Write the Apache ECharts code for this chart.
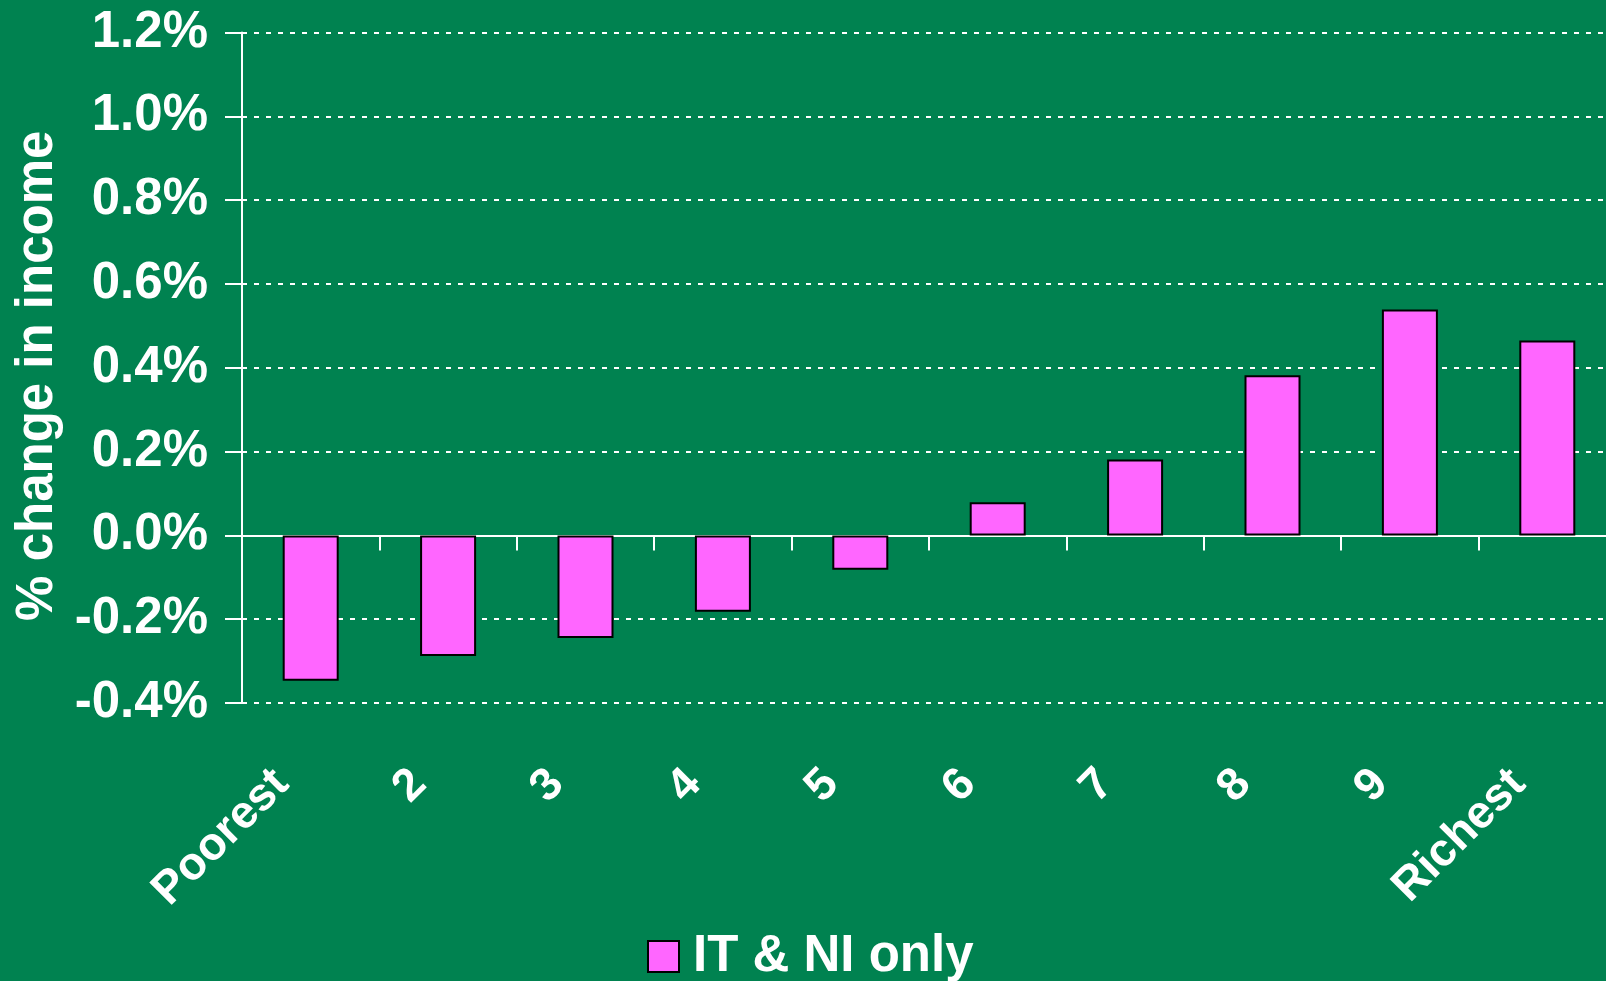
<!DOCTYPE html>
<html>
<head>
<meta charset="utf-8">
<script src="https://cdn.jsdelivr.net/npm/echarts@6/dist/echarts.min.js"></script>
<style>
  html, body { margin: 0; padding: 0; background: #008250; }
  #chart { width: 1606px; height: 981px; }
</style>
</head>
<body>
<div id="chart"></div>
<script>
const deciles = ['Poorest', '2', '3', '4', '5', '6', '7', '8', '9', 'Richest']
const itNiOnly = [-0.347, -0.288, -0.245, -0.182, -0.082, 0.079, 0.181, 0.382, 0.539, 0.465]
const seriesName = 'IT & NI only'
const yTitle = '% change in income'

const font = '"Liberation Sans", Arial, sans-serif'
const white = '#ffffff'

const chart = echarts.init(document.getElementById('chart'))

chart.setOption({
  backgroundColor: '#008250',
  animation: false,
  textStyle: { fontFamily: font },
  // the plot runs a little past the right edge, as in the original
  grid: { left: 242, width: 1374, top: 32.5, bottom: 278, outerBoundsMode: 'none' },
  legend: {
    bottom: -6,
    left: 642,
    itemWidth: 31,
    itemHeight: 31,
    icon: 'rect',
    textStyle: { color: white, fontSize: 51, fontWeight: 'bold', fontFamily: font, padding: [0, 0, 0, 9] },
    data: [{ name: seriesName, itemStyle: { color: '#ff66ff', borderColor: '#000', borderWidth: 2 } }],
  },
  xAxis: [
    {
      type: 'category',
      data: deciles,
      axisLine: { onZero: true, lineStyle: { color: white, width: 2 } },
      axisTick: { show: true, length: 15, lineStyle: { color: white, width: 2 } },
      axisLabel: { show: false },
    },
    {
      // labels sit below the plot, not on the zero line
      type: 'category',
      data: deciles,
      position: 'bottom',
      axisLine: { show: false, onZero: false },
      axisTick: { show: false },
      axisLabel: {
        interval: 0,
        rotate: 45,
        margin: 45,
        padding: [0, 41, 0, 0],
        color: white,
        fontSize: 46,
        fontWeight: 'bold',
        fontFamily: font,
      },
    },
  ],
  yAxis: {
    type: 'value',
    min: -0.4,
    max: 1.2,
    interval: 0.2,
    name: yTitle,
    nameLocation: 'middle',
    nameGap: 169,
    nameRotate: 90,
    nameTextStyle: { color: white, fontSize: 51, fontWeight: 'bold', fontFamily: font, padding: [0, 16, 0, 0] },
    axisLine: { show: true, lineStyle: { color: white, width: 2 } },
    axisTick: { show: true, length: 17, lineStyle: { color: white, width: 2 } },
    axisLabel: {
      margin: 34,
      color: white,
      fontSize: 51,
      fontWeight: 'bold',
      fontFamily: font,
      formatter: (v) => v.toFixed(1) + '%',
    },
    splitLine: { lineStyle: { color: white, width: 2, type: [5, 7] } },
  },
  series: [
    {
      name: seriesName,
      type: 'bar',
      xAxisIndex: 0,
      data: itNiOnly,
      barWidth: 56,
      itemStyle: { color: '#ff66ff', borderColor: '#000', borderWidth: 2 },
    },
  ],
})
</script>
</body>
</html>
